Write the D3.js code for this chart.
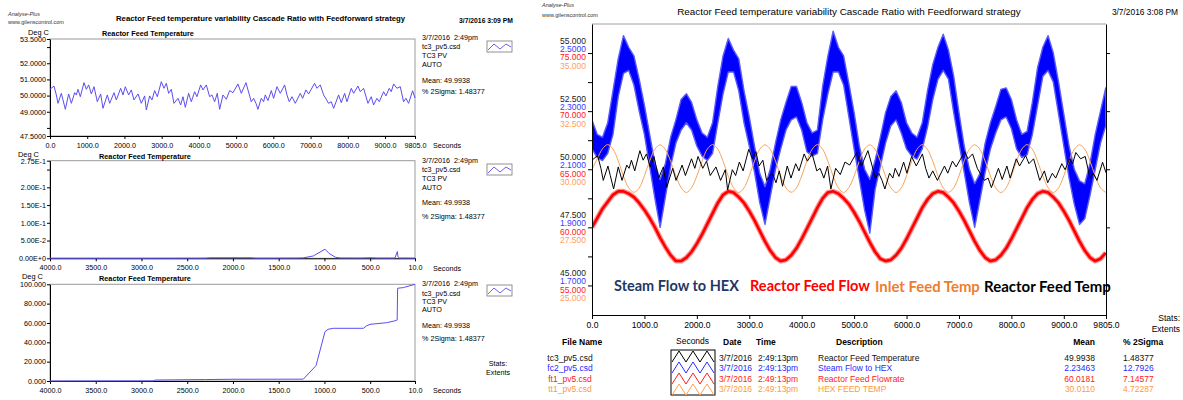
<!DOCTYPE html>
<html>
<head>
<meta charset="utf-8">
<script src="https://cdn.jsdelivr.net/npm/d3@7"></script>
<style>
  body { margin: 0; background: #fff; }
  svg { font-family: "Liberation Sans", Arial, sans-serif; }
</style>
</head>
<body>
<script>
// ---------- data ----------

// tc3 reactor feed temperature, turning points (seconds, deg C)
const tempT = [0,107,170,215,304,349,412,501,573,663,707,752,815,913,976,1039,1110,1182,1271,1361,
  1423,1540,1603,1719,1782,1898,1961,2023,2113,2185,2256,2364,2453,2543,2587,2677,2740,2811,2883,2990,
  3062,3125,3187,3259,3330,3438,3510,3572,3635,3724,3796,3885,3948,4047,4109,4199,4288,4351,4423,4494,
  4557,4647,4736,4826,4915,5049,5139,5264,5407,5470,5533,5586,5676,5739,5783,5855,5945,6007,6097,6186,
  6303,6365,6428,6500,6589,6724,6786,6876,6947,7108,7171,7260,7350,7484,7556,7619,7753,7825,7914,7977,
  8093,8156,8272,8335,8424,8541,8630,8693,8782,8845,8962,9024,9114,9168,9230,9320,9409,9499,9561,9633,
  9740,9805]
const tempV = [50.39,50.59,50.04,49.52,50.14,49.73,49.15,50.10,49.52,50.18,50.04,50.39,49.93,50.80,50.39,50.66,50.10,50.55,49.62,50.10,
  49.21,50.04,49.52,50.18,49.73,50.45,50.04,50.55,50.04,50.35,49.73,50.10,49.52,49.98,49.11,49.98,49.73,50.31,49.93,50.86,
  50.45,50.76,50.14,50.39,49.52,49.83,49.42,49.93,49.27,50.14,49.62,50.24,49.93,50.66,50.35,50.66,49.93,50.04,49.62,50.14,
  49.15,50.04,49.77,50.31,50.18,50.72,50.14,50.80,49.62,49.83,49.52,49.15,49.83,49.62,50.04,49.69,50.31,49.83,50.55,50.14,
  50.66,50.04,49.62,49.93,49.52,50.14,49.83,50.35,50.10,50.76,50.45,50.66,50.04,49.52,49.62,49.21,50.04,49.56,50.14,49.62,
  50.45,50.14,50.59,50.24,50.45,49.52,49.93,49.42,49.83,49.62,50.24,49.98,50.45,50.24,50.72,50.45,50.55,49.62,49.83,49.52,
  50.30,49.85]

// the other three traces, one reading every 100 s
const sampleT = d3.range(0, 9900, 100)
// steam flow to HEX: upper and lower edge of the noisy band
const steamHi = [2.27,2.22,2.21,2.26,2.37,2.48,2.56,2.52,2.49,2.41,
  2.32,2.22,2.12,2.065,2.12,2.21,2.27,2.34,2.36,2.33,
  2.27,2.225,2.21,2.26,2.385,2.49,2.55,2.51,2.48,2.37,
  2.28,2.18,2.085,2.04,2.10,2.19,2.27,2.33,2.385,2.385,
  2.33,2.26,2.225,2.235,2.385,2.49,2.575,2.52,2.49,2.395,
  2.295,2.18,2.10,2.065,2.13,2.21,2.295,2.35,2.37,2.33,
  2.26,2.225,2.21,2.26,2.37,2.46,2.52,2.565,2.51,2.42,
  2.295,2.18,2.10,2.05,2.085,2.19,2.26,2.315,2.375,2.38,
  2.34,2.27,2.22,2.23,2.33,2.45,2.52,2.56,2.50,2.40,
  2.29,2.18,2.10,2.06,2.05,2.12,2.22,2.30,2.38]
const steamLo = [2.17,2.14,2.13,2.155,2.22,2.35,2.43,2.44,2.39,2.30,
  2.22,2.11,2.00,1.90,2.005,2.11,2.19,2.235,2.26,2.235,
  2.18,2.145,2.13,2.155,2.26,2.36,2.435,2.435,2.37,2.26,
  2.18,2.09,1.985,1.91,2.005,2.10,2.17,2.235,2.27,2.28,
  2.235,2.16,2.145,2.155,2.27,2.36,2.435,2.435,2.39,2.28,
  2.17,2.065,1.96,1.88,2.03,2.11,2.19,2.25,2.27,2.225,
  2.17,2.145,2.135,2.17,2.245,2.34,2.41,2.44,2.41,2.295,
  2.19,2.09,1.985,1.90,1.995,2.09,2.17,2.225,2.27,2.28,
  2.24,2.17,2.14,2.15,2.22,2.32,2.42,2.44,2.40,2.29,
  2.18,2.07,1.98,1.91,1.93,2.01,2.10,2.19,2.25]
// reactor feed flow
const feedFlow = [60.0,60.8,61.6,62.2,62.8,63.1,63.1,62.9,62.6,62.1,
  61.5,60.8,60.0,59.1,58.3,57.6,57.1,57.1,57.4,57.9,
  58.6,59.4,60.3,61.2,62.1,62.8,63.1,63.0,62.6,62.1,
  61.4,60.6,59.7,58.8,58.0,57.4,57.1,57.2,57.6,58.2,
  59.0,59.9,60.8,61.7,62.5,63.0,63.1,62.9,62.5,62.0,
  61.3,60.5,59.6,58.7,57.9,57.3,57.1,57.2,57.6,58.2,
  59.0,59.9,60.8,61.7,62.4,62.9,63.1,63.0,62.6,62.1,
  61.4,60.6,59.7,58.8,58.0,57.4,57.1,57.2,57.6,58.2,
  59.0,59.9,60.8,61.7,62.4,62.9,63.1,63.0,62.6,62.1,
  61.4,60.6,59.7,58.8,58.0,57.4,57.1,57.3,57.8]
// inlet feed temp (HEX feed temp)
const inletTemp = [30.00,30.45,30.88,31.06,30.87,30.36,29.70,29.20,29.01,29.19,
  29.72,30.36,30.86,31.05,30.85,30.34,29.71,29.21,29.00,29.21,
  29.71,30.35,30.87,31.06,30.86,30.35,29.70,29.20,29.00,29.20,
  29.72,30.35,30.86,31.05,30.86,30.35,29.71,29.20,29.01,29.20,
  29.71,30.36,30.86,31.06,30.86,30.34,29.71,29.20,29.00,29.21,
  29.71,30.35,30.87,31.05,30.86,30.35,29.70,29.21,29.00,29.20,
  29.72,30.35,30.86,31.06,30.85,30.35,29.71,29.20,29.01,29.20,
  29.71,30.36,30.86,31.05,30.86,30.35,29.71,29.20,29.00,29.20,
  29.71,30.35,30.87,31.06,30.86,30.34,29.71,29.21,29.00,29.20,
  29.72,30.35,30.86,31.05,30.86,30.35,29.70,29.20,29.00]

// middle left chart: amplitude against period (s)
const spectX = [4000,3000,2300,2250,1800,1750,1300,1231,1121,994,950,880,830,600,502,420,230,203,196,180,100,10]
const spectY = [0.0003,0.0003,0.0005,0.0015,0.0015,0.0005,0.0008,0.0012,0.0067,0.0257,0.014,0.003,0.001,0.0008,0.0015,0.0008,0.0008,0.019,0.004,0.0008,0.0008,0.0005]
// bottom left chart: cumulative percent against period (s)
const cumX = [4000,2870,2850,2300,2000,1231,1092,994,960,903,575,540,502,320,218,205,200,137,10]
const cumY = [0,0.1,1.0,1.5,1.8,1.9,15.9,51.0,53.5,54.5,54.5,57.0,58.6,60.3,62.5,63.1,95.9,96.6,100]

// ticks
const secTicks = [0,1000,2000,3000,4000,5000,6000,7000,8000,9000,9805]
const revTicks = [4000,3500,3000,2500,2000,1500,1000,500,10]
const tempTicks = [53.5,53,52,51,50,49,48,47.5]
const tempTickLabels = ["53.5000","","52.0000","51.0000","50.0000","49.0000","","47.5000"]
const spectTicks = [0.275,0.25,0.2,0.15,0.1,0.05,0]
const spectTickLabels = ["2.75E-1","","2.00E-1","1.50E-1","1.00E-1","5.00E-2","0.00E+0"]
const cumTicks = [100,80,60,40,20,0]
const cumTickLabels = ["100.000","80.000","60.000","40.000","20.000","0.000"]

const blackTicks = [55,52.5,50,47.5,45]
const blueTicks = [2.5,2.3,2.1,1.9,1.7]
const redTicks = [75,70,65,60,55]
const orangeTicks = [35,32.5,30,27.5,25]

// stats table
const fileNames = ["tc3_pv5.csd","fc2_pv5.csd","ft1_pv5.csd","tt1_pv5.csd"]
const descriptions = ["Reactor Feed Temperature","Steam Flow to HEX","Reactor Feed Flowrate","HEX FEED TEMP"]
const means = ["49.9938","2.23463","60.0181","30.0110"]
const sigmas = ["1.48377","12.7926","7.14577","4.72287"]
const legendNames = ["Steam Flow to HEX","Reactor Feed Flow","Inlet Feed Temp","Reactor Feed Temp"]
const leftLegend = ["3/7/2016  2:49pm","tc3_pv5.csd","TC3 PV","AUTO","Mean: 49.9938","% 2Sigma: 1.48377"]

// ---------- drawing ----------
const width = 1183, height = 400
const font = '"Liberation Sans", Arial, sans-serif'
const purple = "#5b4df2"
const cBlack = "#000", cBlue = "#0000ff", cRed = "#ff0000", cOrange = "#f7a35c"
const labBlack = "#222", labBlue = "#3a3aff", labRed = "#ff2020", labOrange = "#ffa060"

let svg = d3.select("body").append("svg")
  .attr("width", width).attr("height", height)

function txt(x, y, s, size, opt) {
  opt = opt || {}
  let t = svg.append("text")
    .attr("x", x).attr("y", y)
    .attr("font-size", size)
    .attr("dominant-baseline", "central")
    .attr("fill", opt.fill || "#000")
    .attr("text-anchor", opt.anchor || "start")
    .style("white-space", "pre")
    .text(s)
  if (opt.bold) t.attr("font-weight", "bold")
  if (opt.italic) t.attr("font-style", "italic")
  if (opt.family) t.attr("font-family", opt.family)
  return t
}
// squeeze/stretch a text to the width seen in the picture
function fit(t, w) {
  let len = t.node().getComputedTextLength()
  t.attr("font-size", parseFloat(t.attr("font-size")) * w / len)
}
function styleAxis(g, size, color) {
  g.selectAll("text").attr("font-size", size).attr("font-family", font).attr("fill", color || "#000")
  g.selectAll("line").attr("stroke", "#000")
  g.select(".domain").attr("stroke", "#000")
}

// ===== left panel =====
txt(8, 14, "Analyse-Plus", 5.5, {italic: true, fill: "#333"})
txt(8, 21.5, "www.gilenscontrol.com", 5.5, {fill: "#333"})
fit(txt(116, 18, "Reactor Feed temperature variability Cascade Ratio with Feedforward strategy", 7, {bold: true}), 290)
fit(txt(459, 20, "3/7/2016 3:09 PM", 7, {bold: true}), 54)

const leftX0 = 50, leftX1 = 415

function leftChart(cfg) {
  let x = d3.scaleLinear().domain(cfg.xDomain).range([leftX0, leftX1])
  let y = d3.scaleLinear().domain(cfg.yDomain).range([cfg.bottom, cfg.top])

  svg.append("rect")
    .attr("x", leftX0).attr("y", cfg.top)
    .attr("width", leftX1 - leftX0).attr("height", cfg.bottom - cfg.top)
    .attr("fill", "none").attr("stroke", "#9a9a9a")

  let gy = svg.append("g")
    .attr("transform", "translate(" + leftX0 + ",0)")
    .call(d3.axisLeft(y).tickValues(cfg.yTicks)
      .tickFormat((d, i) => cfg.yLabels[i]).tickSize(3).tickSizeOuter(0).tickPadding(1))
  styleAxis(gy, 7.2)

  let gx = svg.append("g")
    .attr("transform", "translate(0," + cfg.bottom + ")")
    .call(d3.axisBottom(x).tickValues(cfg.xTicks)
      .tickFormat(d => d.toFixed(1)).tickSize(3).tickSizeOuter(0).tickPadding(4))
  styleAxis(gx, 7.2)

  let line = d3.line()
    .x((d, i) => x(cfg.xs[i]))
    .y(d => y(d))
  svg.append("path")
    .datum(cfg.ys)
    .attr("fill", "none")
    .attr("stroke", purple)
    .attr("stroke-width", 1)
    .attr("d", line)

  txt(433, cfg.bottom + 9.7, "Seconds", 7.2)
  txt(cfg.degX, cfg.degY, "Deg C", 7.4)
  fit(txt(cfg.titleX, cfg.titleY, "Reactor Feed Temperature", 7.4, {bold: true}), 92)

  leftLegend.forEach((s, i) => txt(422, cfg.legendY[i], s, 7.2))

  // little legend icon
  svg.append("rect")
    .attr("x", 487).attr("y", cfg.iconY).attr("width", 25).attr("height", 11)
    .attr("fill", "#fff").attr("stroke", "#777").attr("stroke-width", 0.8)
  let zz = [[488, 9], [494, 3], [500, 8], [506, 3], [511, 6]]
  svg.append("path")
    .attr("d", d3.line()(zz.map(p => [p[0], cfg.iconY + p[1]])))
    .attr("fill", "none").attr("stroke", purple).attr("stroke-width", 0.9)
}

leftChart({
  top: 39, bottom: 136, xDomain: [0, 9805], yDomain: [47.5, 53.5],
  xTicks: secTicks, yTicks: tempTicks, yLabels: tempTickLabels,
  xs: tempT, ys: tempV,
  degX: 28, degY: 32, titleX: 102, titleY: 33.3,
  legendY: [37, 46.7, 55.3, 64.3, 80, 91], iconY: 41
})
leftChart({
  top: 160.7, bottom: 258.3, xDomain: [4000, 10], yDomain: [0, 0.275],
  xTicks: revTicks, yTicks: spectTicks, yLabels: spectTickLabels,
  xs: spectX, ys: spectY,
  degX: 18, degY: 154, titleX: 99, titleY: 156,
  legendY: [160.7, 169.3, 178.3, 187.3, 202.7, 216], iconY: 164
})
leftChart({
  top: 284.3, bottom: 381, xDomain: [4000, 10], yDomain: [0, 100],
  xTicks: revTicks, yTicks: cumTicks, yLabels: cumTickLabels,
  xs: cumX, ys: cumY,
  degX: 22, degY: 276, titleX: 99, titleY: 278.3,
  legendY: [283, 293, 301, 309, 325, 338], iconY: 285
})
txt(498, 363, "Stats:", 7.2, {anchor: "middle"})
txt(498, 372.5, "Extents", 7.2, {anchor: "middle"})

// ===== right panel =====
txt(542, 5, "Analyse-Plus", 5.5, {italic: true, fill: "#333"})
txt(542, 15, "www.gilenscontrol.com", 5.5, {fill: "#333"})
fit(txt(849, 11, "Reactor Feed temperature variability Cascade Ratio with Feedforward strategy", 8.8, {anchor: "middle"}), 344)
txt(1178, 12, "3/7/2016 3:08 PM", 8.4, {anchor: "end"})

const rx0 = 592, rx1 = 1106, ry0 = 24, ry1 = 314.5
let xR = d3.scaleLinear().domain([0, 9805]).range([rx0, rx1])
let yBlack = d3.scaleLinear().domain([43.75, 56.25]).range([ry1, ry0])
let yBlue = d3.scaleLinear().domain([1.6, 2.6]).range([ry1, ry0])
let yRed = d3.scaleLinear().domain([52.5, 77.5]).range([ry1, ry0])
let yOrange = d3.scaleLinear().domain([23.75, 36.25]).range([ry1, ry0])

svg.append("clipPath").attr("id", "plotClip")
  .append("rect").attr("x", rx0).attr("y", ry0).attr("width", rx1 - rx0).attr("height", ry1 - ry0)

let plot = svg.append("g").attr("clip-path", "url(#plotClip)")

// reactor feed flow: a soft fringe under a solid line for the noise
let redLine = d3.line().x((d, i) => xR(sampleT[i])).y(d => yRed(d))
plot.append("path")
  .datum(feedFlow)
  .attr("fill", "none").attr("stroke", "#ff8c8c").attr("stroke-width", 5)
  .attr("stroke-linejoin", "round")
  .attr("d", redLine)
plot.append("path")
  .datum(feedFlow)
  .attr("fill", "none").attr("stroke", cRed).attr("stroke-width", 2.6)
  .attr("stroke-linejoin", "round")
  .attr("d", redLine)

// steam flow: filled band between the low and high edges
plot.append("path")
  .datum(steamHi)
  .attr("fill", cBlue)
  .attr("stroke", "#5a5aff").attr("stroke-width", 1.4).attr("stroke-linejoin", "round")
  .attr("d", d3.area()
    .x((d, i) => xR(sampleT[i]))
    .y0((d, i) => yBlue(steamLo[i]))
    .y1(d => yBlue(d)))

// inlet feed temp
plot.append("path")
  .datum(inletTemp)
  .attr("fill", "none").attr("stroke", cOrange).attr("stroke-width", 1)
  .attr("d", d3.line().curve(d3.curveCatmullRom)
    .x((d, i) => xR(sampleT[i])).y(d => yOrange(d)))

// reactor feed temp
plot.append("path")
  .datum(tempV)
  .attr("fill", "none").attr("stroke", cBlack).attr("stroke-width", 1)
  .attr("d", d3.line().x((d, i) => xR(tempT[i])).y(d => yBlack(d)))

// frame and axes
svg.append("line")
  .attr("x1", rx0).attr("x2", rx1).attr("y1", ry0).attr("y2", ry0)
  .attr("stroke", "#a0a0a0")
let gl = svg.append("g")
  .attr("transform", "translate(" + rx0 + ",0)")
  .call(d3.axisLeft(yBlack).tickValues(d3.range(45, 55.01, 1.25))
    .tickFormat("").tickSize(4).tickSizeOuter(0))
styleAxis(gl)
let gr = svg.append("g")
  .attr("transform", "translate(" + rx1 + ",0)")
  .call(d3.axisRight(yBlack).tickValues(blackTicks).tickFormat("").tickSize(4).tickSizeOuter(0))
styleAxis(gr)
let gb = svg.append("g")
  .attr("transform", "translate(0," + (ry1 + 0.5) + ")")
  .call(d3.axisBottom(xR).tickValues(secTicks).tickFormat(d => d.toFixed(1))
    .tickSize(4).tickSizeOuter(0).tickPadding(3))
styleAxis(gb, 8.6)

// stacked value labels, one colour per trace
blackTicks.forEach((v, i) => {
  txt(586, yBlack(v) - 12.5, v.toFixed(3), 8.5, {anchor: "end", fill: labBlack})
  txt(586, yBlue(blueTicks[i]) - 4.3, blueTicks[i].toFixed(4), 8.5, {anchor: "end", fill: labBlue})
  txt(586, yRed(redTicks[i]) + 4.3, redTicks[i].toFixed(3), 8.5, {anchor: "end", fill: labRed})
  txt(586, yOrange(orangeTicks[i]) + 12.8, orangeTicks[i].toFixed(3), 8.5, {anchor: "end", fill: labOrange})
})

// pasted legend inside the plot
const legendColors = ["#1f3864", "#ff0000", "#ed7d31", "#000000"]
const legendPos = [[614, 125], [750, 120], [875, 105], [984, 127]]
legendNames.forEach((s, i) => {
  let t = txt(legendPos[i][0], 285.7, s, 15, {bold: true, fill: legendColors[i], family: "Lato, 'Open Sans', sans-serif"})
  fit(t, legendPos[i][1])
})

txt(1180, 318.3, "Stats:", 8.5, {anchor: "end"})
txt(1180, 329.3, "Extents", 8.5, {anchor: "end"})

// stats table
txt(562, 342, "File Name", 8.5, {bold: true})
txt(676, 340.7, "Seconds", 8.5)
txt(723, 342, "Date", 8.5, {bold: true})
txt(756, 342, "Time", 8.5, {bold: true})
txt(836, 342, "Description", 8.5, {bold: true})
txt(1095, 342, "Mean", 8.5, {bold: true, anchor: "end"})
txt(1123, 342, "% 2Sigma", 8.5, {bold: true})

const rowY = [357.7, 368.3, 379.3, 389.3]
const rowColors = ["#111", "#2a2aff", "#ff2020", "#ff9a40"]
const lineColors = ["#000", "#2a2aff", "#ff2020", "#ffa050"]
fileNames.forEach((f, i) => {
  let c = rowColors[i]
  txt(570, rowY[i], f, 8.5, {anchor: "middle", fill: c})
  txt(719, rowY[i], "3/7/2016", 8.5, {fill: c})
  txt(758, rowY[i], "2:49:13pm", 8.5, {fill: c})
  txt(818, rowY[i], descriptions[i], 8.5, {fill: c})
  txt(1095, rowY[i], means[i], 8.5, {anchor: "end", fill: c})
  txt(1123, rowY[i], sigmas[i], 8.5, {fill: c})
})

// legend swatch box with one zigzag per trace
svg.append("rect")
  .attr("x", 671).attr("y", 350).attr("width", 44).attr("height", 45)
  .attr("fill", "#fff").attr("stroke", "#000").attr("stroke-width", 1)
lineColors.forEach((c, i) => {
  let top = 351 + 11 * i, bot = top + 11
  let pts = [[672, bot], [679, top], [686, bot], [693, top], [700, bot], [707, top], [714, bot]]
  svg.append("path")
    .attr("d", d3.line()(pts))
    .attr("fill", "none").attr("stroke", c).attr("stroke-width", 1)
})
</script>
</body>
</html>
